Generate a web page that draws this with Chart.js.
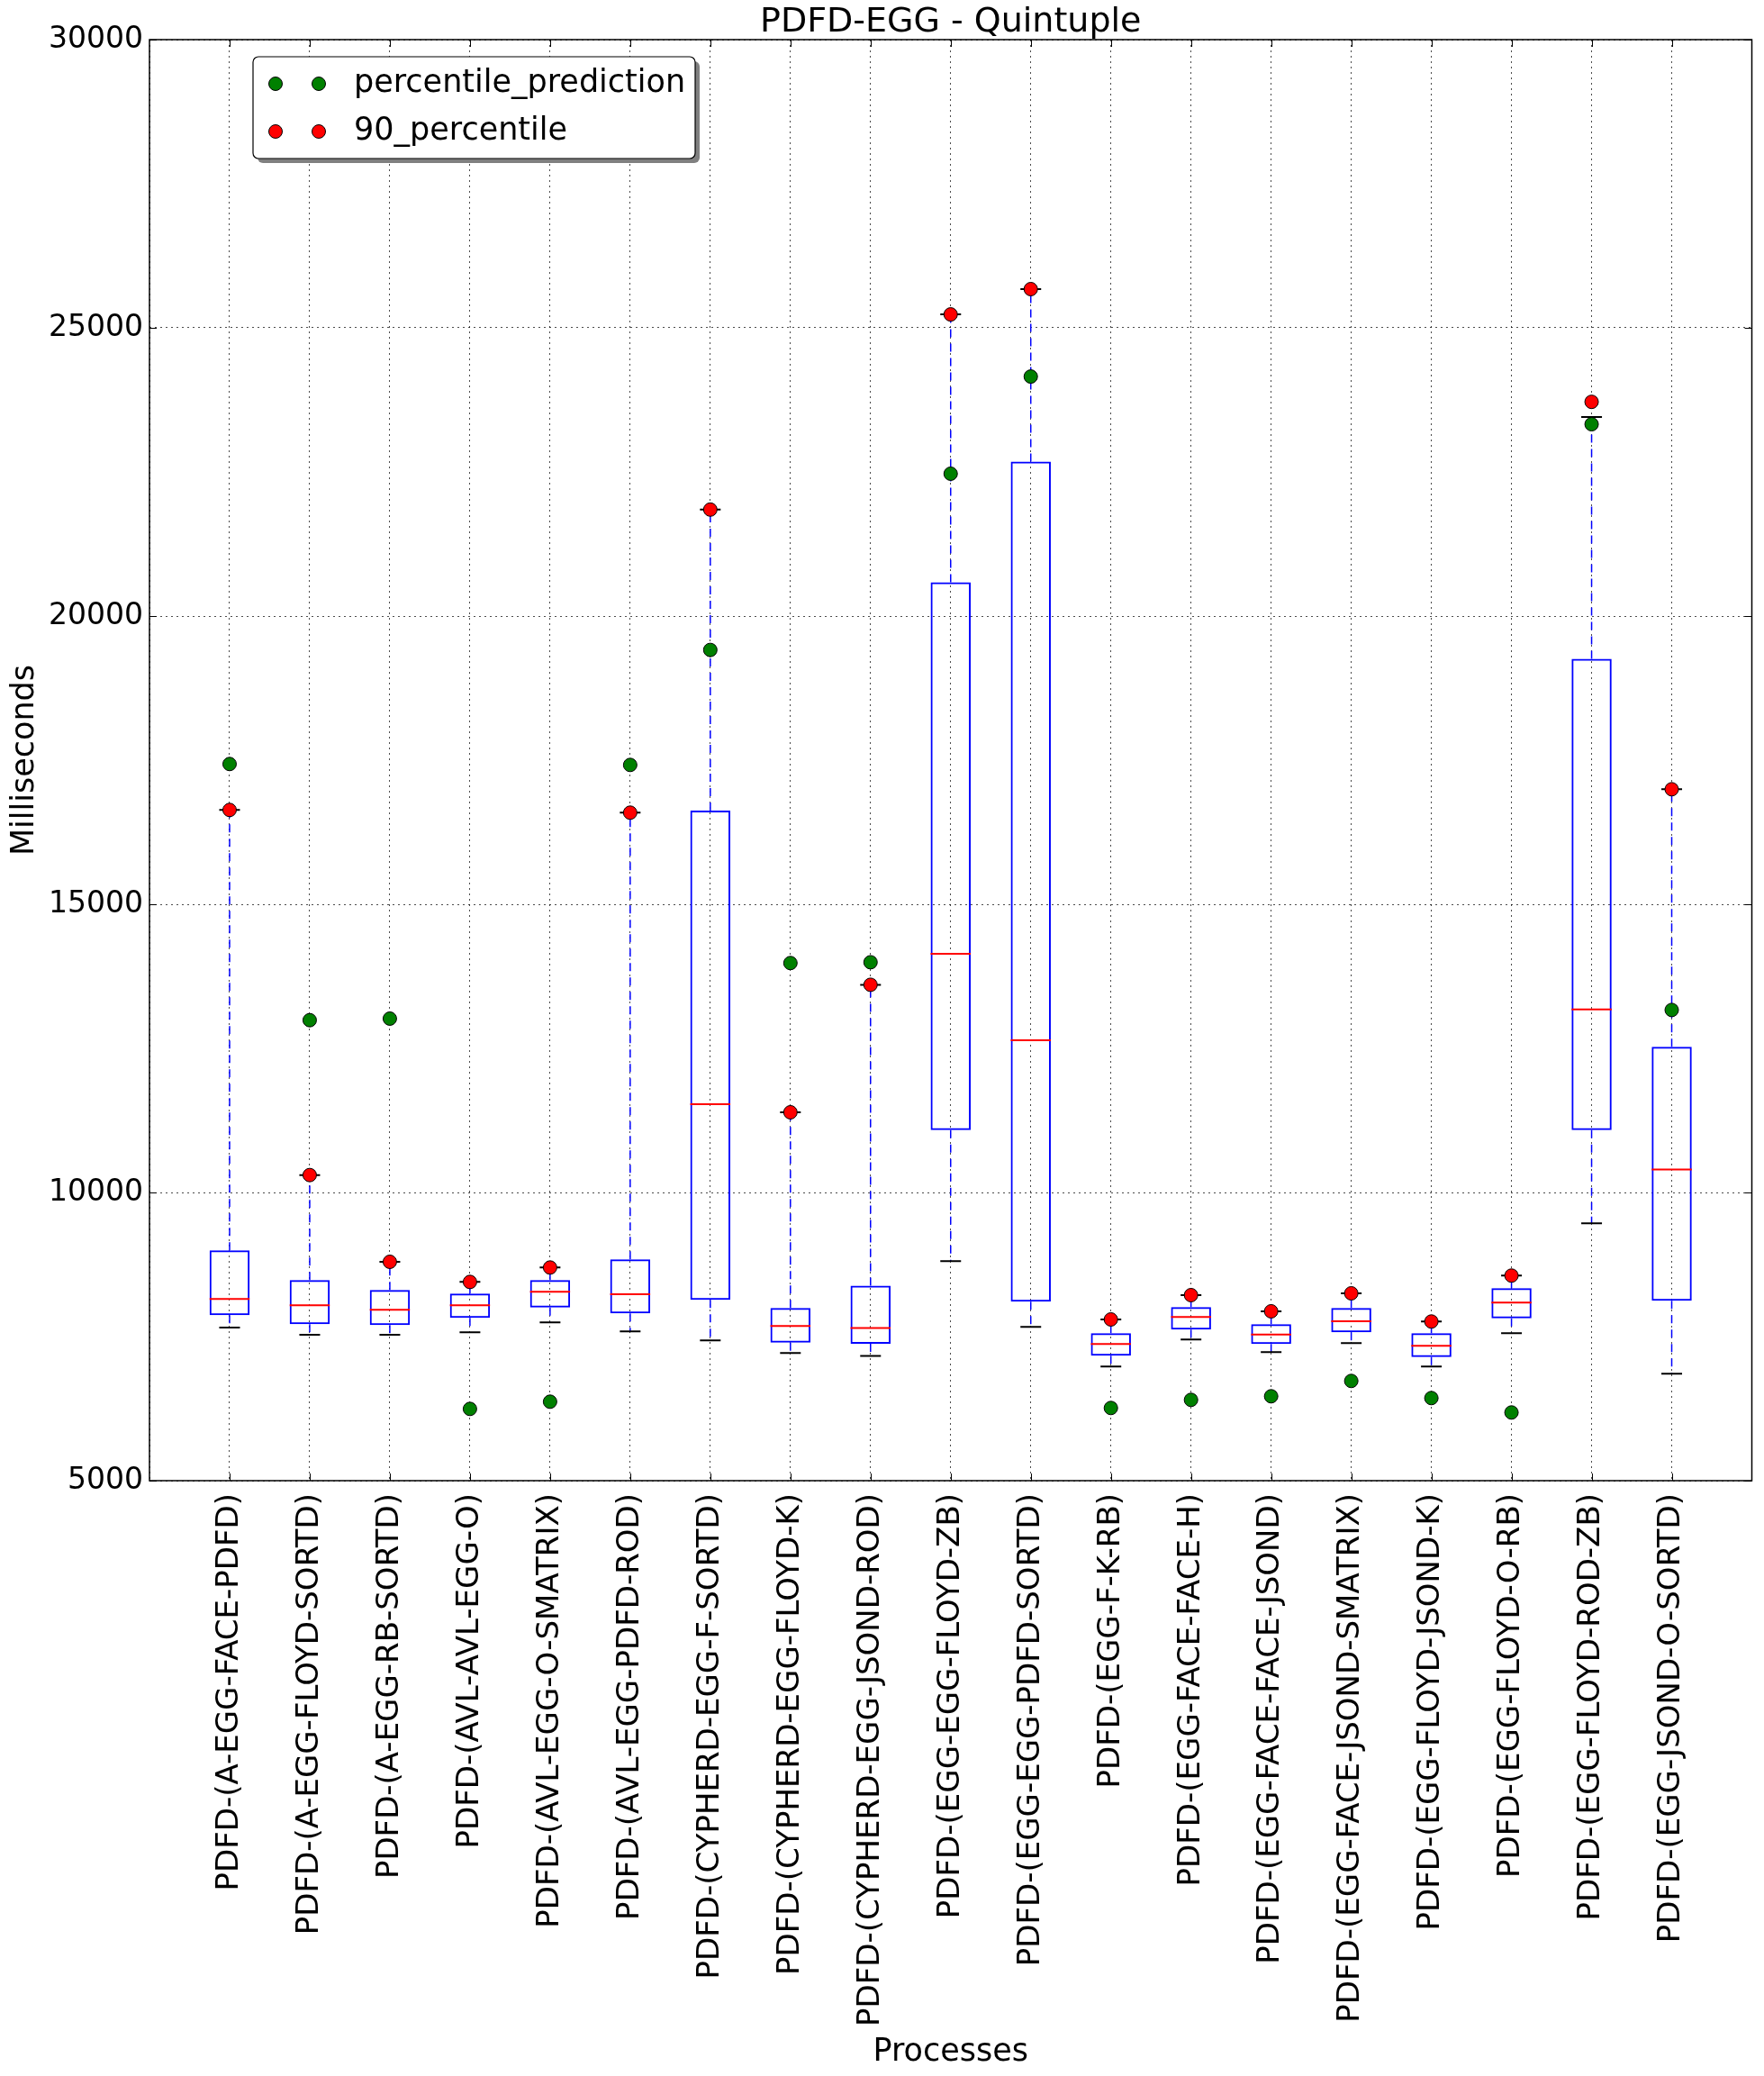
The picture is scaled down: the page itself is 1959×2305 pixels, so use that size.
<!DOCTYPE html>
<html>
<head>
<meta charset="utf-8">
<title>PDFD-EGG - Quintuple</title>
<script src="https://cdn.jsdelivr.net/npm/chart.js@4.4.1/dist/chart.umd.min.js"></script>
<style>
  html, body { margin: 0; padding: 0; background: #fff; }
</style>
</head>
<body>
<canvas id="boxChart" width="1959" height="2305"></canvas>
<script>
// 데이터 (ms)
const processes = [
  'PDFD-(A-EGG-FACE-PDFD)',
  'PDFD-(A-EGG-FLOYD-SORTD)',
  'PDFD-(A-EGG-RB-SORTD)',
  'PDFD-(AVL-AVL-EGG-O)',
  'PDFD-(AVL-EGG-O-SMATRIX)',
  'PDFD-(AVL-EGG-PDFD-ROD)',
  'PDFD-(CYPHERD-EGG-F-SORTD)',
  'PDFD-(CYPHERD-EGG-FLOYD-K)',
  'PDFD-(CYPHERD-EGG-JSOND-ROD)',
  'PDFD-(EGG-EGG-FLOYD-ZB)',
  'PDFD-(EGG-EGG-PDFD-SORTD)',
  'PDFD-(EGG-F-K-RB)',
  'PDFD-(EGG-FACE-FACE-H)',
  'PDFD-(EGG-FACE-FACE-JSOND)',
  'PDFD-(EGG-FACE-JSOND-SMATRIX)',
  'PDFD-(EGG-FLOYD-JSOND-K)',
  'PDFD-(EGG-FLOYD-O-RB)',
  'PDFD-(EGG-FLOYD-ROD-ZB)',
  'PDFD-(EGG-JSOND-O-SORTD)',
];

const whiskerLow = [7656, 7531, 7531, 7573, 7745, 7589, 7433, 7214, 7165, 8808, 7667, 6980, 7448, 7230, 7386, 6980, 7558, 9464, 6855];
const q1 = [7870, 7714, 7698, 7823, 8005, 7901, 8135, 7395, 7375, 11083, 8105, 7167, 7620, 7370, 7573, 7145, 7817, 11083, 8120];
const median = [8151, 8042, 7964, 8042, 8276, 8234, 11531, 7683, 7648, 14139, 12642, 7370, 7839, 7536, 7766, 7339, 8089, 13177, 10400];
const q3 = [8995, 8479, 8307, 8245, 8479, 8839, 16625, 7995, 8383, 20586, 22678, 7558, 8011, 7714, 7995, 7558, 8339, 19256, 12527];
const whiskerHigh = [16636, 10302, 8797, 8448, 8698, 16589, 21847, 11391, 13603, 25233, 25672, 7797, 8219, 7938, 8250, 7761, 8558, 23453, 16995];

const percentilePrediction = [17433, 12989, 13016, 6245, 6370, 17417, 19412, 13980, 13994, 22469, 24155, 6261, 6402, 6464, 6730, 6433, 6183, 23328, 13166];
const percentile90 = [16636, 10302, 8797, 8448, 8698, 16589, 21847, 11391, 13603, 25233, 25672, 7797, 8219, 7938, 8250, 7761, 8558, 23716, 16995];

const yTicks = [5000, 10000, 15000, 20000, 25000, 30000];

const FONT = "'DejaVu Sans', 'Bitstream Vera Sans', sans-serif";
Chart.defaults.font.family = FONT;
Chart.defaults.color = '#000';

// 위치 x = 1..19
const pos = processes.map((_, i) => i + 1);

const whiskerLines = [];
pos.forEach((x, i) => {
  whiskerLines.push({ x, y: q3[i] }, { x, y: whiskerHigh[i] }, { x, y: null });
  whiskerLines.push({ x, y: q1[i] }, { x, y: whiskerLow[i] }, { x, y: null });
});

const caps = [];
pos.forEach((x, i) => {
  caps.push({ x, y: whiskerHigh[i] }, { x, y: whiskerLow[i] });
});

// 박스 폭의 절반 (x축 한 칸의 1/4)
function halfBox(ctx) {
  const xs = ctx.chart.scales.x;
  return (xs.getPixelForValue(1) - xs.getPixelForValue(0)) * 0.25;
}

const legendItems = [
  { label: 'percentile_prediction', color: '#008000' },
  { label: '90_percentile', color: '#ff0000' },
];

const framePlugin = {
  id: 'frame',
  afterDraw(chart) {
    const { ctx, chartArea: a, scales } = chart;
    ctx.save();

    // 작은 눈금 (안쪽)
    ctx.strokeStyle = '#000';
    ctx.lineWidth = 1;
    ctx.beginPath();
    yTicks.forEach((v) => {
      const y = Math.round(scales.y.getPixelForValue(v)) + 0.5;
      ctx.moveTo(a.left, y); ctx.lineTo(a.left + 8, y);
      ctx.moveTo(a.right, y); ctx.lineTo(a.right - 8, y);
    });
    pos.forEach((v) => {
      const x = Math.round(scales.x.getPixelForValue(v)) + 0.5;
      ctx.moveTo(x, a.bottom); ctx.lineTo(x, a.bottom - 8);
      ctx.moveTo(x, a.top); ctx.lineTo(x, a.top + 8);
    });
    ctx.stroke();

    // 테두리
    ctx.lineWidth = 1.5;
    ctx.strokeRect(a.left, a.top, a.right - a.left, a.bottom - a.top);

    // 제목
    ctx.fillStyle = '#000';
    ctx.font = '38px ' + FONT;
    ctx.textAlign = 'center';
    ctx.textBaseline = 'alphabetic';
    ctx.fillText('PDFD-EGG - Quintuple', (a.left + a.right) / 2, a.top - 9);

    // 범례
    const lx = a.left + 115, ly = a.top + 19, lw = 491, lh = 113;
    ctx.fillStyle = '#808080';
    roundRect(ctx, lx + 5, ly + 5, lw, lh, 6);
    ctx.fill();
    ctx.fillStyle = '#fff';
    roundRect(ctx, lx, ly, lw, lh, 6);
    ctx.fill();
    ctx.lineWidth = 1.2;
    ctx.strokeStyle = '#000';
    ctx.stroke();

    legendItems.forEach((item, i) => {
      const cy = ly + 30 + i * 53;
      [lx + 25, lx + 73].forEach((cx) => {
        ctx.beginPath();
        ctx.arc(cx, cy, 7.5, 0, Math.PI * 2);
        ctx.fillStyle = item.color;
        ctx.fill();
        ctx.lineWidth = 1;
        ctx.strokeStyle = '#000';
        ctx.stroke();
      });
      ctx.fillStyle = '#000';
      ctx.font = '35px ' + FONT;
      ctx.textAlign = 'left';
      ctx.textBaseline = 'middle';
      ctx.fillText(item.label, lx + 112, cy);
    });

    ctx.restore();
  },
};

function roundRect(ctx, x, y, w, h, r) {
  ctx.beginPath();
  ctx.moveTo(x + r, y);
  ctx.lineTo(x + w - r, y);
  ctx.arcTo(x + w, y, x + w, y + r, r);
  ctx.lineTo(x + w, y + h - r);
  ctx.arcTo(x + w, y + h, x + w - r, y + h, r);
  ctx.lineTo(x + r, y + h);
  ctx.arcTo(x, y + h, x, y + h - r, r);
  ctx.lineTo(x, y + r);
  ctx.arcTo(x, y, x + r, y, r);
  ctx.closePath();
}

const boxCtx = document.getElementById('boxChart');

new Chart(boxCtx, {
  type: 'bar',
  data: {
    datasets: [
      {
        type: 'scatter',
        label: 'percentile_prediction',
        data: pos.map((x, i) => ({ x, y: percentilePrediction[i] })),
        pointRadius: 7.5,
        pointBackgroundColor: '#008000',
        pointBorderColor: '#000',
        pointBorderWidth: 1,
      },
      {
        type: 'scatter',
        label: '90_percentile',
        data: pos.map((x, i) => ({ x, y: percentile90[i] })),
        pointRadius: 7.5,
        pointBackgroundColor: '#ff0000',
        pointBorderColor: '#000',
        pointBorderWidth: 1,
      },
      {
        type: 'scatter',
        label: 'median',
        data: pos.map((x, i) => ({ x, y: median[i] })),
        pointStyle: 'line',
        pointRadius: halfBox,
        pointBorderColor: '#ff0000',
        pointBorderWidth: 2,
      },
      {
        type: 'scatter',
        label: 'caps',
        data: caps,
        pointStyle: 'line',
        pointRadius: 11.5,
        pointBorderColor: '#000',
        pointBorderWidth: 2,
      },
      {
        type: 'line',
        label: 'whiskers',
        data: whiskerLines,
        borderColor: '#0000ff',
        borderWidth: 1.5,
        borderDash: [9, 7],
        pointRadius: 0,
        spanGaps: false,
      },
      {
        type: 'bar',
        label: 'boxes',
        data: pos.map((x, i) => ({ x, y: [q1[i], q3[i]] })),
        backgroundColor: 'rgba(0,0,0,0)',
        borderColor: '#0000ff',
        borderWidth: 2,
        borderSkipped: false,
        categoryPercentage: 1,
        barPercentage: 0.5,
      },
    ],
  },
  options: {
    responsive: false,
    devicePixelRatio: 1,
    animation: false,
    events: [],
    layout: { padding: { top: 44, right: 8, left: 0, bottom: 0 } },
    plugins: {
      legend: { display: false },
      tooltip: { enabled: false },
      title: { display: false },
    },
    scales: {
      x: {
        type: 'linear',
        min: 0,
        max: 20,
        offset: false,
        afterFit(scale) {
          scale.height = 661;
          scale.paddingLeft = 0;
          scale.paddingRight = 0;
        },
        afterBuildTicks(scale) {
          scale.ticks = [0].concat(pos, [20]).map((v) => ({ value: v }));
        },
        ticks: {
          autoSkip: false,
          minRotation: 90,
          maxRotation: 90,
          padding: 14,
          font: { size: 34 },
          callback: (v) => processes[Math.round(v) - 1] || '',
        },
        grid: { offset: false, color: 'rgba(0,0,0,0.7)', lineWidth: 1, drawTicks: false },
        border: { display: false, dash: [2, 4] },
        title: {
          display: true,
          text: 'Processes',
          font: { size: 35 },
          padding: { top: 0, bottom: 5 },
        },
      },
      y: {
        min: 5000,
        max: 30000,
        afterFit(scale) {
          scale.width = 166;
          scale.paddingTop = 0;
          scale.paddingBottom = 0;
        },
        afterBuildTicks(scale) {
          scale.ticks = yTicks.map((v) => ({ value: v }));
        },
        ticks: {
          padding: 7,
          font: { size: 33 },
          callback: (v) => String(v),
        },
        grid: { color: 'rgba(0,0,0,0.7)', lineWidth: 1, drawTicks: false },
        border: { display: false, dash: [2, 4] },
        title: {
          display: true,
          text: 'Milliseconds',
          font: { size: 35 },
          padding: { top: 7, bottom: 0 },
        },
      },
    },
  },
  plugins: [framePlugin],
});
</script>
</body>
</html>
